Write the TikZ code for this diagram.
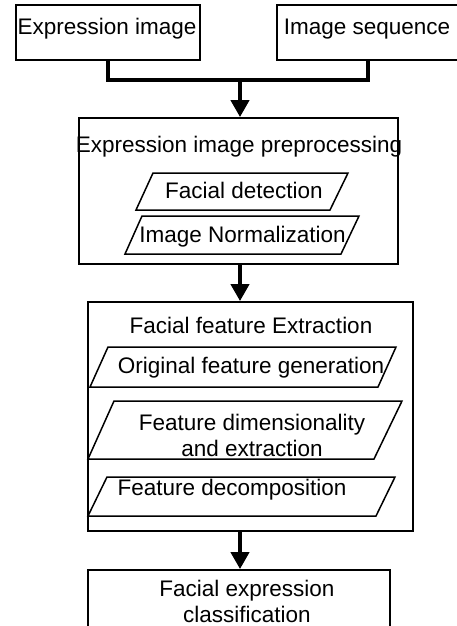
\documentclass[tikz,border=0pt]{standalone}
\usepackage{fontspec}
\setmainfont{Liberation Sans}
\usetikzlibrary{arrows.meta}
\begin{document}
\begin{tikzpicture}[x=1pt,y=-1pt,
  box/.style={draw, line width=1.8pt, inner sep=0pt},
  para/.style={draw, line width=1.5pt, line join=miter},
  lbl/.style={inner sep=0pt, anchor=base, font=\fontsize{22.5}{26}\selectfont, align=center},
  conn/.style={line width=4pt},
  arrowc/.style={line width=4pt, -{Triangle[length=17pt,width=18pt]}}]
\useasboundingbox (0,0) rectangle (457,626);
% boxes
\node[box, minimum width=184pt, minimum height=55pt] (ei) at (108,32.5) {};
\node[box, minimum width=181pt, minimum height=55pt] (is) at (367.5,32.5) {};
\node[box, minimum width=319pt, minimum height=146pt] (pre) at (238.5,191) {};
\node[box, minimum width=325pt, minimum height=229pt] (ext) at (250.5,416.5) {};
\node[box, minimum width=302pt, minimum height=70pt] (fec) at (239,605) {};
% parallelograms
\draw[para] (153,173) -- (348,173) -- (330,210) -- (136,210) -- cycle;
\draw[para] (142,216) -- (359,216) -- (341,254) -- (125,254) -- cycle;
\draw[para] (108,347) -- (396,347) -- (378,387) -- (90,387) -- cycle;
\draw[para] (114,401) -- (402,401) -- (374,459) -- (88,459) -- cycle;
\draw[para] (107,477) -- (395,477) -- (376,516) -- (88,516) -- cycle;
% labels
\node[lbl] (eit) at (107,35) {Expression image};
\node[lbl] (ist) at (367,35) {Image sequence};
\node[lbl] (pret) at (239,152) {Expression image preprocessing};
\node[lbl] (fdt) at (244,198) {Facial detection};
\node[lbl] (int) at (242.5,242) {Image Normalization};
\node[lbl] (extt) at (251,333) {Facial feature Extraction};
\node[lbl] (ofg) at (251,373) {Original feature generation};
\node[lbl] (fdx) at (252,456) {Feature dimensionality\\and extraction};
\node[lbl] (fdc) at (232,495) {Feature decomposition};
\node[lbl] (fect) at (247,622) {Facial expression\\classification};
% connectors
\coordinate (j) at (240,80);
\draw[conn] (ei.south) |- (j) -| (is.south);
\draw[arrowc] (j) -- (j |- pre.north);
\draw[arrowc] (pre.south -| j) -- (ext.north -| j);
\draw[arrowc] (ext.south -| j) -- (fec.north -| j);
\end{tikzpicture}
\end{document}
